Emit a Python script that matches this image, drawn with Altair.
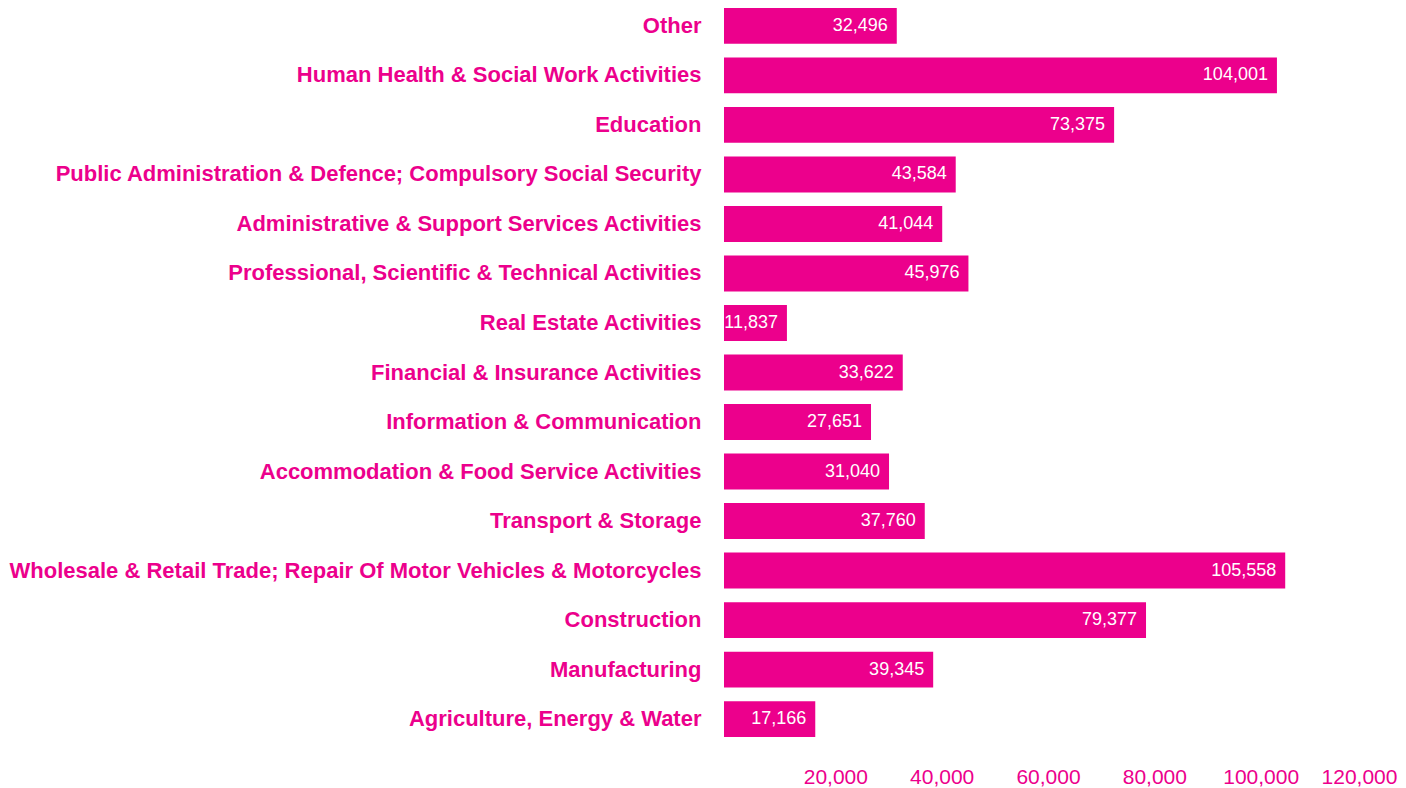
import altair as alt
import pandas as pd

categories = [
    "Other",
    "Human Health & Social Work Activities",
    "Education",
    "Public Administration & Defence; Compulsory Social Security",
    "Administrative & Support Services Activities",
    "Professional, Scientific & Technical Activities",
    "Real Estate Activities",
    "Financial & Insurance Activities",
    "Information & Communication",
    "Accommodation & Food Service Activities",
    "Transport & Storage",
    "Wholesale & Retail Trade; Repair Of Motor Vehicles & Motorcycles",
    "Construction",
    "Manufacturing",
    "Agriculture, Energy & Water",
]
values = [32496, 104001, 73375, 43584, 41044, 45976, 11837, 33622, 27651,
          31040, 37760, 105558, 79377, 39345, 17166]
tick_values = [20000, 40000, 60000, 80000, 100000, 120000]

COLOR = "#EC008C"
FONT = "Liberation Sans"

df = pd.DataFrame({"category": categories, "value": values})

y_enc = alt.Y(
    "category:N",
    sort=categories,
    title=None,
    scale=alt.Scale(paddingInner=0.276, paddingOuter=0),
    axis=alt.Axis(
        domain=False, ticks=False, labelFontSize=22, labelFontWeight="bold",
        labelColor=COLOR, labelFont=FONT, labelPadding=23, labelLimit=800,
    ),
)

x_enc = alt.X(
    "value:Q",
    title=None,
    scale=alt.Scale(domain=[0, 120000], nice=False),
    axis=alt.Axis(
        values=tick_values, format=",.0f", domain=False, ticks=False, grid=False,
        labelFontSize=21, labelColor=COLOR, labelFont=FONT, labelPadding=29,
        labelOffset={"condition": {"test": "datum.value === 120000", "value": -3}, "value": 5},
        labelFlush=False,
    ),
)

base = alt.Chart(df).encode(y=y_enc, x=x_enc)

bars = base.mark_bar(color=COLOR)

text = base.mark_text(
    align="right", baseline="middle", dx=-9, color="white", fontSize=18, font=FONT
).encode(
    text=alt.Text("value:Q", format=",.0f"),
)

chart = (
    (bars + text)
    .properties(
        width=638,
        height=729,
        autosize=alt.AutoSizeParams(type="none"),
        padding={"left": 716, "top": 0, "right": 36, "bottom": 50},
        background="white",
    )
    .configure_view(stroke="transparent")
)

chart.save("out.html", embed_options={"renderer": "svg", "actions": False})
